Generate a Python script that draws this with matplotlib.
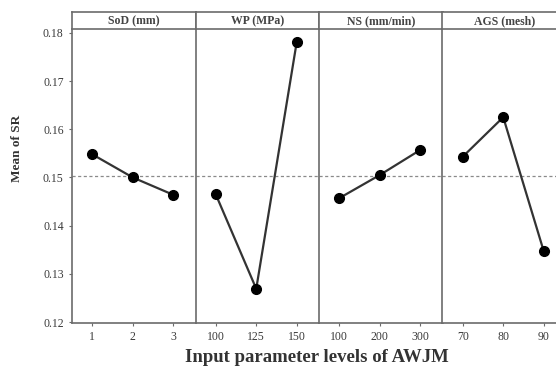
import matplotlib.pyplot as plt
import numpy as np

# Main effects of AWJM parameters on surface roughness
factors = ['SoD (mm)', 'WP (MPa)', 'NS (mm/min)', 'AGS (mesh)']
levels = [['1', '2', '3'], ['100', '125', '150'], ['100', '200', '300'], ['70', '80', '90']]
sod_sr = [0.1548, 0.1500, 0.1464]
wp_sr = [0.1465, 0.1269, 0.1781]
ns_sr = [0.1457, 0.1505, 0.1557]
ags_sr = [0.1543, 0.1625, 0.1347]
means = [sod_sr, wp_sr, ns_sr, ags_sr]
grand_mean = np.mean(sod_sr)
yticks = [0.12, 0.13, 0.14, 0.15, 0.16, 0.17, 0.18]

LINE_GREY = '#6b6b6b'
plt.rcParams['font.family'] = ['Liberation Serif', 'DejaVu Serif']

fig = plt.figure(figsize=(5.56, 3.69), dpi=100)

left, bottom, top = 72 / 556, 46 / 369, 1 - 29 / 369
pw = 123.5 / 556
strip_h = 17 / 369

for i, (name, labs, vals) in enumerate(zip(factors, levels, means)):
    ax = fig.add_axes([left + i * pw, bottom, pw, top - bottom])
    x = np.arange(1, 4)
    ax.axhline(grand_mean, color='#8a8a8a', lw=0.9, ls=(0, (2.5, 2)), zorder=1)
    ax.plot(x, vals, color='#333333', lw=1.6, marker='o', ms=7,
            mfc='black', mec='black', zorder=3)
    ax.set_xlim(0.5, 3.55)
    ax.set_ylim(0.1198, 0.1808)
    ax.set_xticks(x)
    ax.set_xticklabels(labs)
    ax.set_yticks(yticks)
    for s in ['top', 'right']:
        ax.spines[s].set_visible(False)
    for s in ['left', 'bottom']:
        ax.spines[s].set_color(LINE_GREY)
        ax.spines[s].set_linewidth(1.2)
    ax.tick_params(colors=LINE_GREY, labelcolor='#3a3a3a', labelsize=8.5,
                   length=2.5, width=0.8)
    if i == 0:
        ax.set_yticklabels(['%.2f' % t for t in yticks])
    else:
        ax.tick_params(axis='y', left=False, labelleft=False)

    # strip header
    sax = fig.add_axes([left + i * pw, top, pw, strip_h])
    sax.set_xticks([])
    sax.set_yticks([])
    for s in sax.spines.values():
        s.set_color(LINE_GREY)
        s.set_linewidth(1.2)
    sax.text(0.5, 0.45, name, ha='center', va='center', fontsize=8.5,
             fontweight='bold', color='#444444', transform=sax.transAxes)

fig.text(17 / 556, 1 - 148 / 369, 'Mean of SR', rotation=90, ha='center',
         va='center', fontsize=9.5, fontweight='bold', color='#333333')
fig.text(317 / 556, 1 - 357 / 369, 'Input parameter levels of AWJM', ha='center',
         va='center', fontsize=13.5, fontweight='bold', color='#333333')

fig.savefig('out.png', dpi=100)
